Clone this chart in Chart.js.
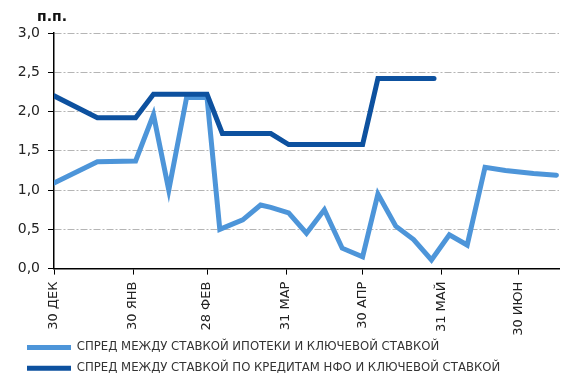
<!DOCTYPE html>
<html>
<head>
<meta charset="utf-8">
<script src="https://cdn.jsdelivr.net/npm/chart.js@4"></script>
<style>
  html, body { margin: 0; padding: 0; background: #fff; }
  #wrap { width: 573px; height: 386px; }
</style>
</head>
<body>
<div id="wrap"><canvas id="chartCanvas" width="573" height="386"></canvas></div>
<script>
// days since 30 Dec
const mortgageDays = [0, 17, 32, 39, 45, 52, 60, 65, 74, 81, 85, 92, 99, 106, 113, 121, 127, 134, 141, 148, 155, 162, 169, 177, 188, 197];
const mortgageSpread = [1.09, 1.36, 1.37, 1.96, 1.00, 2.18, 2.18, 0.50, 0.62, 0.81, 0.78, 0.71, 0.45, 0.75, 0.26, 0.15, 0.95, 0.54, 0.37, 0.11, 0.43, 0.30, 1.29, 1.25, 1.21, 1.19];

const corpDays = [0, 17, 32, 39, 60, 66, 85, 92, 121, 127, 149];
const corpSpread = [2.20, 1.92, 1.92, 2.22, 2.22, 1.72, 1.72, 1.58, 1.58, 2.42, 2.42];

const tickDays = [0, 31, 60, 91, 121, 152, 182];
const tickLabels = ["30 ДЕК", "30 ЯНВ", "28 ФЕВ", "31 МАР", "30 АПР", "31 МАЙ", "30 ИЮН"];

const seriesNames = [
  "СПРЕД МЕЖДУ СТАВКОЙ ИПОТЕКИ И КЛЮЧЕВОЙ СТАВКОЙ",
  "СПРЕД МЕЖДУ СТАВКОЙ ПО КРЕДИТАМ НФО И КЛЮЧЕВОЙ СТАВКОЙ"
];

const lightBlue = "#4d95d9";
const darkBlue = "#0d519f";
const fontFamily = "'DejaVu Sans', sans-serif";

function toPoints(xs, ys) {
  return xs.map((x, i) => ({ x: x, y: ys[i] }));
}

const unitLabel = {
  id: "unitLabel",
  // let the long rotated month labels run into the legend area instead of being clipped
  afterLayout(chart) {
    chart.scales.x.bottom = chart.height;
  },
  afterDraw(chart) {
    const ctx = chart.ctx;
    ctx.save();
    ctx.font = "bold 14px " + fontFamily;
    ctx.fillStyle = "#111";
    ctx.textBaseline = "middle";
    ctx.textAlign = "left";
    ctx.fillText("п.п.", 37, 17);
    ctx.restore();
  }
};

const ctx = document.getElementById("chartCanvas").getContext("2d");

new Chart(ctx, {
  type: "line",
  data: {
    datasets: [
      {
        label: seriesNames[0],
        data: toPoints(mortgageDays, mortgageSpread),
        borderColor: lightBlue,
        backgroundColor: lightBlue,
        borderWidth: 5,
        pointRadius: 0,
        borderCapStyle: "round",
        order: 1
      },
      {
        label: seriesNames[1],
        data: toPoints(corpDays, corpSpread),
        borderColor: darkBlue,
        backgroundColor: darkBlue,
        borderWidth: 5,
        pointRadius: 0,
        borderCapStyle: "round",
        order: 0
      }
    ]
  },
  options: {
    responsive: false,
    animation: false,
    layout: { padding: { top: 33, right: 14, left: 18, bottom: 2 } },
    plugins: {
      tooltip: { enabled: false },
      legend: {
        position: "bottom",
        align: "start",
        labels: {
          usePointStyle: true,
          pointStyle: "line",
          pointStyleWidth: 44,
          boxHeight: 12,
          padding: 9,
          color: "#333",
          font: { family: fontFamily, size: 11.7 },
          sort: (a, b) => a.datasetIndex - b.datasetIndex
        }
      }
    },
    scales: {
      x: {
        type: "linear",
        min: 0,
        max: 198,
        afterBuildTicks: scale => {
          scale.ticks = tickDays.map(v => ({ value: v }));
        },
        afterFit: scale => { scale.height = 64; },
        ticks: {
          minRotation: 90,
          maxRotation: 90,
          padding: 7,
          color: "#222",
          font: { family: fontFamily, size: 13 },
          callback: (value, index) => tickLabels[index]
        },
        grid: {
          drawOnChartArea: false,
          drawTicks: true,
          tickLength: 6,
          tickColor: "#000"
        },
        border: { display: true, color: "#000", width: 1.5 }
      },
      y: {
        min: 0,
        max: 3,
        afterFit: scale => { scale.width = 36; },
        ticks: {
          stepSize: 0.5,
          padding: 8,
          color: "#222",
          font: { family: fontFamily, size: 14 },
          callback: value => value.toFixed(1).replace(".", ",")
        },
        grid: {
          color: "#b5b5b5",
          lineWidth: 1,
          tickLength: 6,
          tickColor: "#000",
          tickBorderDash: []
        },
        border: { display: true, color: "#000", width: 1.5, dash: [7, 2, 2, 2] }
      }
    }
  },
  plugins: [unitLabel]
});
</script>
</body>
</html>
